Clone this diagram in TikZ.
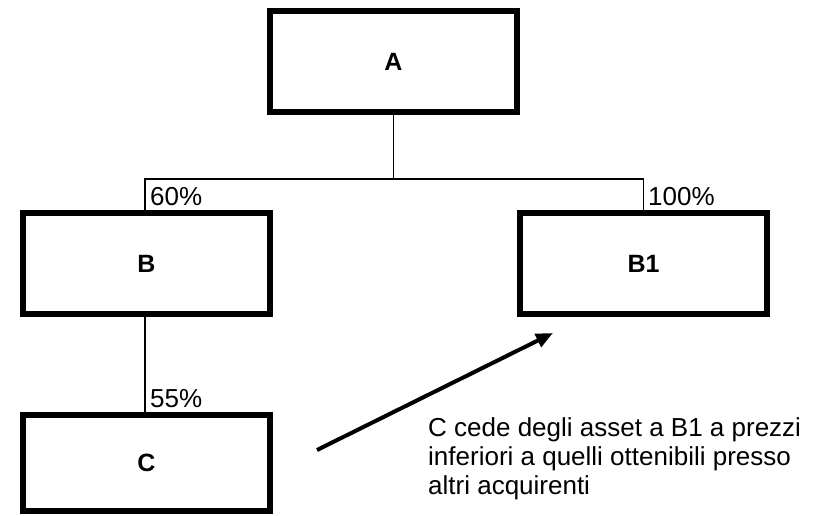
\documentclass[tikz,border=0pt]{standalone}
\usepackage{fontspec}
\setmainfont{Liberation Sans}
\usetikzlibrary{arrows.meta}
\tikzset{
  box/.style={draw, line width=6pt, minimum width=247pt, minimum height=101pt,
    inner sep=0pt, font=\bfseries\fontsize{25}{29}\selectfont},
  conn/.style={line width=1.5pt},
  pct/.style={anchor=base west, inner sep=0pt, font=\fontsize{26}{29}\selectfont},
  note/.style={anchor=base west, inner sep=0pt, align=left, font=\fontsize{26}{29}\selectfont},
  bigarrow/.style={line width=4pt, -{Triangle[length=17pt,width=14pt]}}
}
\begin{document}
\begin{tikzpicture}[x=1pt,y=-1pt]
\useasboundingbox (0,0) rectangle (821,515);
\node[box] (A) at (393.5,61.5) {A};
\node[box] (B) at (146.5,263.5) {B};
\node[box] (B1) at (643.5,263.5) {B1};
\node[box, minimum height=96pt] (C) at (146.5,463) {C};
\coordinate (j) at (393.5,179);
\draw[conn] (A.south) -- (j);
\draw[conn] ([xshift=-1.5pt]B.north) |- (j) -| (B1.north);
\draw[conn] ([xshift=-1.5pt]B.south) -- ([xshift=-1.5pt]C.north);
\node[pct] (p60) at (150,205) {60\%};
\node[pct] (p100) at (648,205) {100\%};
\node[pct] (p55) at (150,407) {55\%};
\coordinate (s) at (317,450);
\coordinate (e) at (553,333);
\draw[bigarrow] (s) -- (e);
\node[note] (txt) at (428,494) {C cede degli asset a B1 a prezzi\\inferiori a quelli ottenibili presso\\altri acquirenti};
\end{tikzpicture}
\end{document}
